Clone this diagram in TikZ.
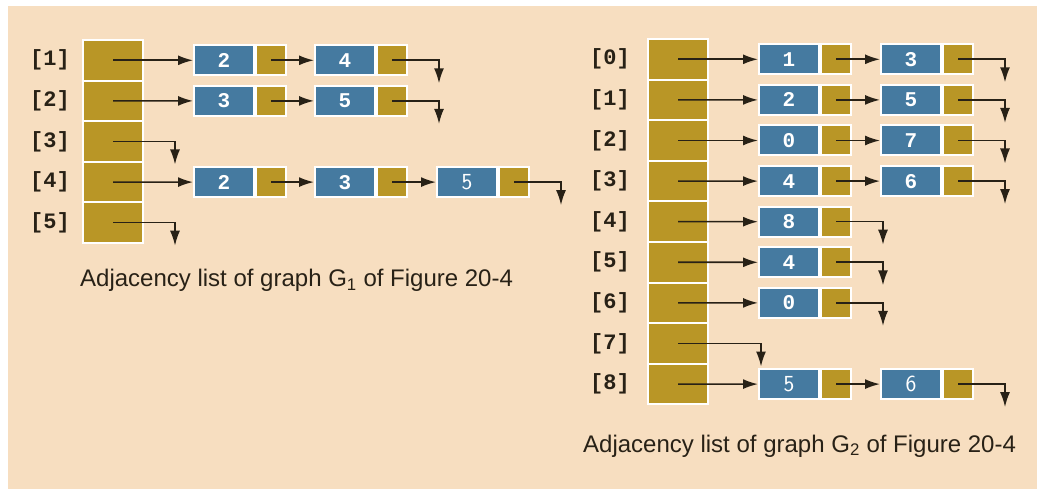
\documentclass[tikz,border=0pt]{standalone}
\usepackage{fontspec}
\setmainfont{Liberation Sans}
\setmonofont{Liberation Mono}
\usepackage{tikz}
\usetikzlibrary{positioning, arrows.meta, calc}
\definecolor{peach}{RGB}{247,222,192}
\definecolor{gold}{RGB}{185,150,38}
\definecolor{steel}{RGB}{69,122,160}
\definecolor{ink}{RGB}{40,33,22}
\tikzset{
	cellbox/.style={draw=white, line width=2pt, fill=gold, minimum width=60pt, minimum height=40.6pt, inner sep=0pt}
}
\tikzset{
	databox/.style={draw=white, line width=2pt, fill=steel, minimum width=60pt, minimum height=30pt, inner sep=0pt,
		text=white, font=\fontsize{21}{21}\selectfont\ttfamily\bfseries},
	sansdata/.style={databox, font=\fontsize{23}{23}\selectfont\sffamily},
	ptrbox/.style={draw=white, line width=2pt, fill=gold, minimum width=30pt, minimum height=30pt, inner sep=0pt},
	idxtext/.style={text=ink, font=\fontsize{22}{22}\selectfont\ttfamily\bfseries},
	captext/.style={text=ink, font=\fontsize{24}{24}\selectfont, anchor=base west, inner sep=0pt},
	link/.style={draw=ink, line width=1.6pt, -{Latex[length=15pt,width=10pt]}}
}
% one list node: value part and link part
\newcommand{\lnode}[5][databox]{%
  \node[#1] (#2) at (#3,#4) {#5};
  \node[ptrbox, right=0pt of #2] (#2p) {};
}
\newcommand{\nullptr}[1]{\draw[link] (#1.center) -- ($(#1.east)+(31,0)$) -- ++(0,23);}

\begin{document}
\begin{tikzpicture}[x=1pt, y=-1pt]
  \useasboundingbox (0,0) rectangle (1037,489);
  \fill[peach] (8,6) rectangle (1037,489);

  % graph G1
  \foreach \i in {1,...,5} {
    \node[cellbox] (a\i) at (113,{40+40.6*(\i-0.5)}) {};
    \node[idxtext] (la\i) at (50,{40+40.6*(\i-0.5)}) {[\i]};
  }
  \lnode{u11}{224}{60.3}{2}
  \lnode{u12}{345}{60.3}{4}
  \lnode{u21}{224}{100.9}{3}
  \lnode{u22}{345}{100.9}{5}
  \lnode{u41}{224}{182.1}{2}
  \lnode{u42}{345}{182.1}{3}
  \lnode[sansdata]{u43}{467}{182.1}{5}

  \draw[link] (a1.center) -- (u11.west);
  \draw[link] (u11p.center) -- (u12.west);
  \nullptr{u12p}
  \draw[link] (a2.center) -- (u21.west);
  \draw[link] (u21p.center) -- (u22.west);
  \nullptr{u22p}
  \nullptr{a3}
  \draw[link] (a4.center) -- (u41.west);
  \draw[link] (u41p.center) -- (u42.west);
  \draw[link] (u42p.center) -- (u43.west);
  \nullptr{u43p}
  \nullptr{a5}

  \node[captext] (cap1) at (80,287) {Adjacency list of graph G\textsubscript{1} of Figure 20-4};

  % graph G2
  \foreach \k in {0,...,8} {
    \node[cellbox] (b\k) at (678,{39+40.6*(\k+0.5)}) {};
    \node[idxtext] (lb\k) at (610,{39+40.6*(\k+0.5)}) {[\k]};
  }
  \lnode{v01}{789}{59.3}{1}
  \lnode{v02}{911}{59.3}{3}
  \lnode{v11}{789}{99.9}{2}
  \lnode{v12}{911}{99.9}{5}
  \lnode{v21}{789}{140.5}{0}
  \lnode{v22}{911}{140.5}{7}
  \lnode{v31}{789}{181.1}{4}
  \lnode{v32}{911}{181.1}{6}
  \lnode{v41}{789}{221.7}{8}
  \lnode{v51}{789}{262.3}{4}
  \lnode{v61}{789}{302.9}{0}
  \lnode[sansdata]{v81}{789}{384.1}{5}
  \lnode[sansdata]{v82}{911}{384.1}{6}

  \foreach \k in {0,1,2,3} {
    \draw[link] (b\k.center) -- (v\k1.west);
    \draw[link] (v\k1p.center) -- (v\k2.west);
    \nullptr{v\k2p}
  }
  \foreach \k in {4,5,6} {
    \draw[link] (b\k.center) -- (v\k1.west);
    \nullptr{v\k1p}
  }
  \draw[link] (b7.center) -- ($(b7.east)+(52,0)$) -- ++(0,23);
  \draw[link] (b8.center) -- (v81.west);
  \draw[link] (v81p.center) -- (v82.west);
  \nullptr{v82p}

  \node[captext] (cap2) at (583,452) {Adjacency list of graph G\textsubscript{2} of Figure 20-4};
\end{tikzpicture}
\end{document}
